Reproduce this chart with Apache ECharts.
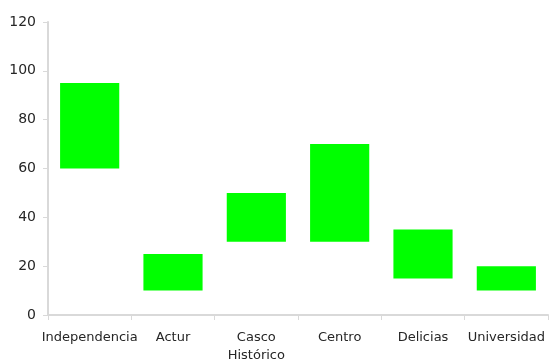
<!DOCTYPE html>
<html>
<head>
<meta charset="utf-8">
<script src="https://cdn.jsdelivr.net/npm/echarts@6/dist/echarts.min.js"></script>
<style>
  html, body { margin: 0; padding: 0; background: #fff; }
  #chart { width: 549px; height: 361px; }
</style>
</head>
<body>
<div id="chart"></div>
<script>
// Barrios de Zaragoza: rango de valores (mínimo – máximo)
const categories = ['Independencia', 'Actur', 'Casco Histórico', 'Centro', 'Delicias', 'Universidad'];
const lowValues  = [60, 10, 30, 30, 15, 10];
const highValues = [95, 25, 50, 70, 35, 20];
const yTicks = [0, 20, 40, 60, 80, 100, 120];

const rangeSpan = highValues.map((h, i) => h - lowValues[i]);

const fontFamily = '"DejaVu Sans", sans-serif';
const axisGray = '#d9d9d9';

const chart = echarts.init(document.getElementById('chart'), null, { renderer: 'canvas' });
chart.setOption({
  animation: false,
  grid: { left: 48, right: 1, top: 22, bottom: 46, containLabel: false, outerBoundsMode: 'none' },
  xAxis: {
    type: 'category',
    data: categories,
    axisLine: { lineStyle: { color: axisGray, width: 2 } },
    axisTick: { show: true, length: 5, lineStyle: { color: axisGray, width: 1 } },
    axisLabel: {
      interval: 0,
      color: '#262626',
      fontFamily: fontFamily,
      fontSize: 13,
      margin: 14,
      lineHeight: 18,
      formatter: v => v.replace(' ', '\n')
    }
  },
  yAxis: {
    type: 'value',
    min: yTicks[0],
    max: yTicks[yTicks.length - 1],
    interval: 20,
    axisLine: { show: true, lineStyle: { color: axisGray, width: 2 } },
    axisTick: { show: true, length: 5, lineStyle: { color: axisGray, width: 1 } },
    splitLine: { show: false },
    axisLabel: { color: '#262626', fontFamily: fontFamily, fontSize: 14, margin: 12 }
  },
  series: [
    {
      name: 'base',
      type: 'bar',
      stack: 'rango',
      data: lowValues,
      itemStyle: { color: 'transparent' },
      barCategoryGap: '29%',
      silent: true
    },
    {
      name: 'rango',
      type: 'bar',
      stack: 'rango',
      data: rangeSpan,
      itemStyle: { color: '#00ff00' },
      barCategoryGap: '29%'
    }
  ]
});
</script>
</body>
</html>
